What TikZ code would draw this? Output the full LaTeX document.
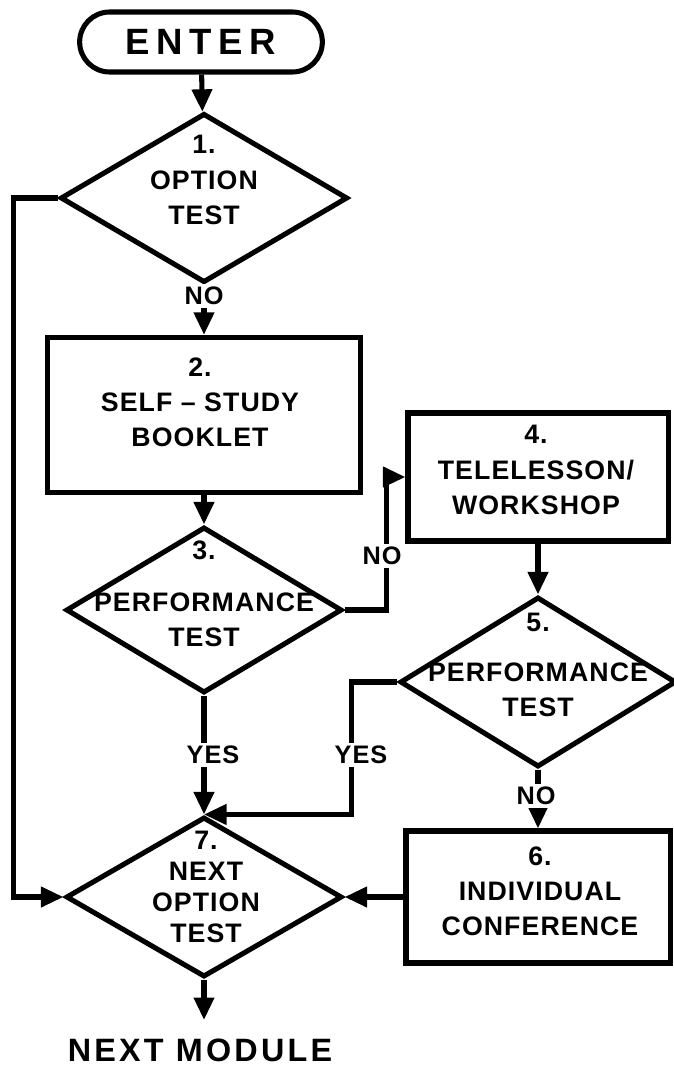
\documentclass[tikz,border=0pt]{standalone}
\usepackage{fontspec}
\setmainfont{Liberation Sans}[LetterSpace=4]
\usetikzlibrary{shapes.geometric,shapes.misc,arrows.meta}
\begin{document}
\begin{tikzpicture}[x=0.025cm, y=-0.025cm, line width=3.6pt,
  decision/.style={draw, diamond, inner sep=0pt},
  process/.style={draw, rectangle, inner sep=0pt},
  arr/.style={-{Triangle[length=16pt,width=14pt]}},
  boxtext/.style={align=center, inner sep=0pt, font=\fontsize{19}{25}\selectfont\bfseries},
  lbl/.style={fill=white, inner sep=2pt, font=\fontsize{18}{20}\selectfont\bfseries}]
\useasboundingbox (0,0) rectangle (674,1072);
% shapes
\node[draw, rounded rectangle, minimum width=6.3cm, minimum height=1.5cm,
  font=\fontsize{26}{30}\selectfont\bfseries\addfontfeature{LetterSpace=18}] (enter) at (201,42) {ENTER};
\node[decision, minimum width=7.18cm, minimum height=4.23cm] (opt) at (204,198) {};
\node[process, minimum width=7.8cm, minimum height=3.88cm] (booklet) at (204,415) {};
\node[decision, minimum width=6.9cm, minimum height=4.15cm] (perf) at (204,610) {};
\node[process, minimum width=6.5cm, minimum height=3.2cm] (tele) at (538,477) {};
\node[decision, minimum width=6.9cm, minimum height=4.25cm] (perftwo) at (538,682) {};
\node[process, minimum width=6.6cm, minimum height=3.3cm] (conf) at (538,897) {};
\node[decision, minimum width=6.9cm, minimum height=4cm] (nextopt) at (204,897) {};
\coordinate (out) at (204,1020);
% texts
\node[boxtext] (opttext) at (204,180) {1.\\OPTION\\TEST};
\node[boxtext] (booklettext) at (200,402) {2.\\SELF -- STUDY\\BOOKLET};
\node[boxtext] (perftext) at (204,594) {3.\\[12pt]PERFORMANCE\\TEST};
\node[boxtext] (teletext) at (536,470) {4.\\TELELESSON/\\WORKSHOP};
\node[boxtext] (perftwotext) at (538,665) {5.\\[10pt]PERFORMANCE\\TEST};
\node[boxtext] (conftext) at (540,891) {6.\\INDIVIDUAL\hspace*{2.2em}\\CONFERENCE};
\node[boxtext, font=\fontsize{19}{22}\selectfont\bfseries] (nextopttext) at (206,887) {7.\\NEXT\\OPTION\\TEST};
\node[font=\fontsize{23}{27}\selectfont\bfseries\addfontfeature{LetterSpace=10}] (module) at (200,1050) {NEXT MODULE};
% connectors
\draw[arr] (enter) -- (opt);
\draw[arr] (opt) -- (booklet);
\draw[arr] (booklet) -- (perf);
\draw[arr] (perf.east) -- ++(42,0) |- (tele.west);
\draw[arr] (tele) -- (perftwo);
\draw[arr] (perftwo) -- (conf);
\draw[arr] (perf) -- (nextopt);
\draw[arr] (perftwo.west) -- ++(-46,0) |- (nextopt.north);
\draw[arr] (opt.west) -- ++(-44,0) |- (nextopt.west);
\draw[arr] (conf) -- (nextopt);
\draw[arr] (nextopt) -- (out);
% labels
\node[lbl] (noa) at (204,296) {NO};
\node[lbl] (nob) at (382,556) {NO};
\node[lbl] (noc) at (536,796) {NO};
\node[lbl] (yesa) at (213,755) {YES};
\node[lbl] (yesb) at (361,755) {YES};
\end{tikzpicture}
\end{document}
